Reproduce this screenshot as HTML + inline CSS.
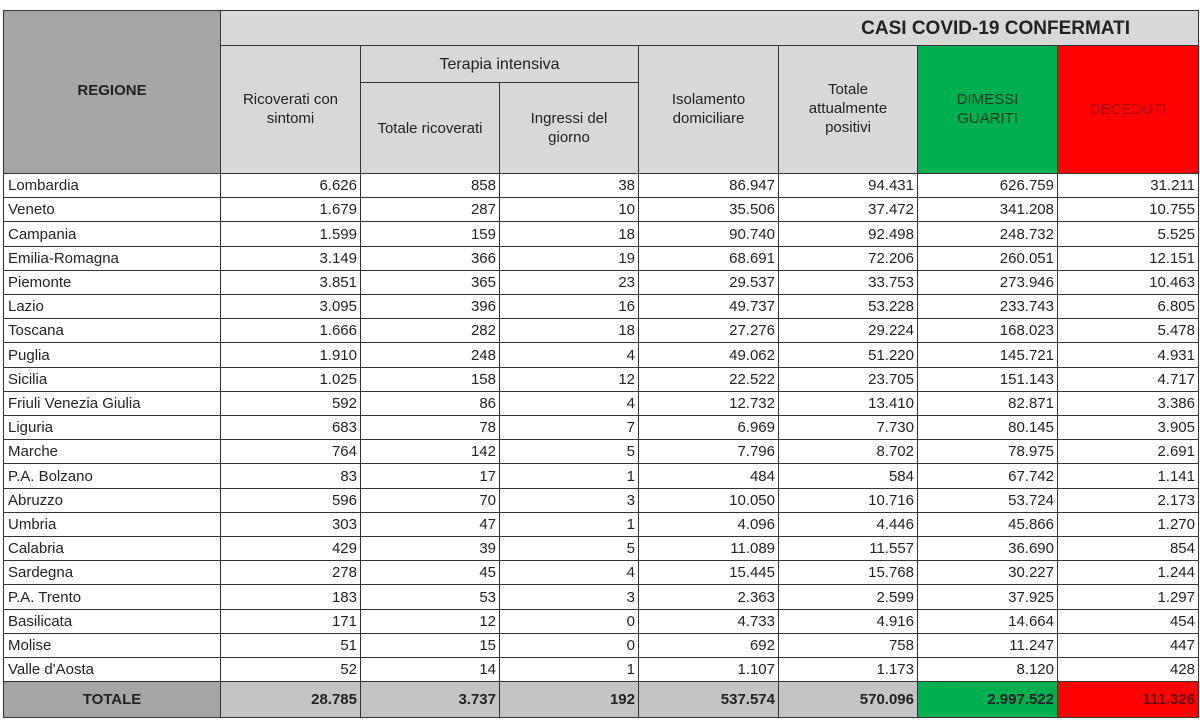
<!DOCTYPE html>
<html><head><meta charset="utf-8">
<style>
body{margin:0;width:1200px;height:728px;background:#fff;font-family:"Liberation Sans",sans-serif;position:relative;overflow:hidden}
.c{position:absolute;box-sizing:border-box;border:1px solid #333;display:flex;align-items:center;justify-content:center;text-align:center;color:#222;font-size:15px;line-height:19px}
.d{justify-content:flex-end;padding-right:3px;font-size:15px;background:#fff}
.n{justify-content:flex-start;padding-left:4px;background:#fff}
.h{background:#d9d9d9}
.t{background:#c4c4c4;font-weight:bold;justify-content:flex-end;padding-right:3px;font-size:15px}
</style></head><body>
<div id="tbl"></div>
<script>
const regions=["Lombardia","Veneto","Campania","Emilia-Romagna","Piemonte","Lazio","Toscana","Puglia","Sicilia","Friuli Venezia Giulia","Liguria","Marche","P.A. Bolzano","Abruzzo","Umbria","Calabria","Sardegna","P.A. Trento","Basilicata","Molise","Valle d'Aosta"];
const ricoverati=["6.626","1.679","1.599","3.149","3.851","3.095","1.666","1.910","1.025","592","683","764","83","596","303","429","278","183","171","51","52"];
const terapia=["858","287","159","366","365","396","282","248","158","86","78","142","17","70","47","39","45","53","12","15","14"];
const ingressi=["38","10","18","19","23","16","18","4","12","4","7","5","1","3","1","5","4","3","0","0","1"];
const isolamento=["86.947","35.506","90.740","68.691","29.537","49.737","27.276","49.062","22.522","12.732","6.969","7.796","484","10.050","4.096","11.089","15.445","2.363","4.733","692","1.107"];
const positivi=["94.431","37.472","92.498","72.206","33.753","53.228","29.224","51.220","23.705","13.410","7.730","8.702","584","10.716","4.446","11.557","15.768","2.599","4.916","758","1.173"];
const dimessi=["626.759","341.208","248.732","260.051","273.946","233.743","168.023","145.721","151.143","82.871","80.145","78.975","67.742","53.724","45.866","36.690","30.227","37.925","14.664","11.247","8.120"];
const deceduti=["31.211","10.755","5.525","12.151","10.463","6.805","5.478","4.931","4.717","3.386","3.905","2.691","1.141","2.173","1.270","854","1.244","1.297","454","447","428"];
const totals=["28.785","3.737","192","537.574","570.096","2.997.522","111.326"];
const X=[3,220,360,499,638,778,917,1057,1198];
const T=document.getElementById('tbl');
function cell(x1,y1,x2,y2,cls,txt,name,style){
 const e=document.createElement('div');
 e.className='c '+cls;
 e.style.left=x1+'px';e.style.top=y1+'px';e.style.width=(x2-x1+1)+'px';e.style.height=(y2-y1+1)+'px';
 if(style)e.style.cssText+=style;
 e.innerHTML=txt;
 
 
 T.appendChild(e);return e;
}
const top0=10,hb=45,tb=82,hEnd=173,rowH=24.2,totTop=681,totBot=717;
cell(X[0],top0,X[1],hEnd,'','<b>REGIONE</b>','regione-header','background:#a6a6a6;align-items:flex-start;padding-top:70px');
cell(X[1],top0,X[8],hb,'h','<b style="font-size:19px">CASI COVID-19 CONFERMATI</b>','title-header','justify-content:flex-end;padding-right:68px');
cell(X[1],hb,X[2],hEnd,'h','Ricoverati con<br>sintomi','col-ricoverati','align-items:flex-start;padding-top:44px');
cell(X[2],hb,X[4],tb,'h','<span style="font-size:16px">Terapia intensiva</span>','col-terapia-group');
cell(X[2],tb,X[3],hEnd,'h','Totale ricoverati','col-terapia-totale');
cell(X[3],tb,X[4],hEnd,'h','Ingressi del<br>giorno','col-ingressi');
cell(X[4],hb,X[5],hEnd,'h','Isolamento<br>domiciliare','col-isolamento','align-items:flex-start;padding-top:44px');
cell(X[5],hb,X[6],hEnd,'h','Totale<br>attualmente<br>positivi','col-positivi','align-items:flex-start;padding-top:34px');
cell(X[6],hb,X[7],hEnd,'','DIMESSI<br>GUARITI','col-dimessi','background:#00b050;color:#1a3a1a;align-items:flex-start;padding-top:44px');
cell(X[7],hb,X[8],hEnd,'','DECEDUTI','col-deceduti','background:#ff0000;color:#a00;align-items:flex-start;padding-top:54px');
const cols=[ricoverati,terapia,ingressi,isolamento,positivi,dimessi,deceduti];
const cn=['ricoverati','terapia','ingressi','isolamento','positivi','dimessi','deceduti'];
regions.forEach((r,i)=>{
 const y1=Math.round(hEnd+i*rowH),y2=Math.round(hEnd+(i+1)*rowH);
 cell(X[0],y1,X[1],y2,'n',r,'region-'+r.toLowerCase().replace(/[^a-z]+/g,'-'));
 cols.forEach((c,j)=>{cell(X[j+1],y1,X[j+2],y2,'d',c[i],'cell-'+cn[j]);});
});
cell(X[0],totTop,X[1],totBot,'','<b>TOTALE</b>','totale-label','background:#a6a6a6');
totals.forEach((v,j)=>{
 const bg=j==5?'background:#00b050':j==6?'background:#ff0000;color:#600':'';
 cell(X[j+1],totTop,X[j+2],totBot,'t',v,'total-'+cn[j],bg);
});
</script>
</body></html>
